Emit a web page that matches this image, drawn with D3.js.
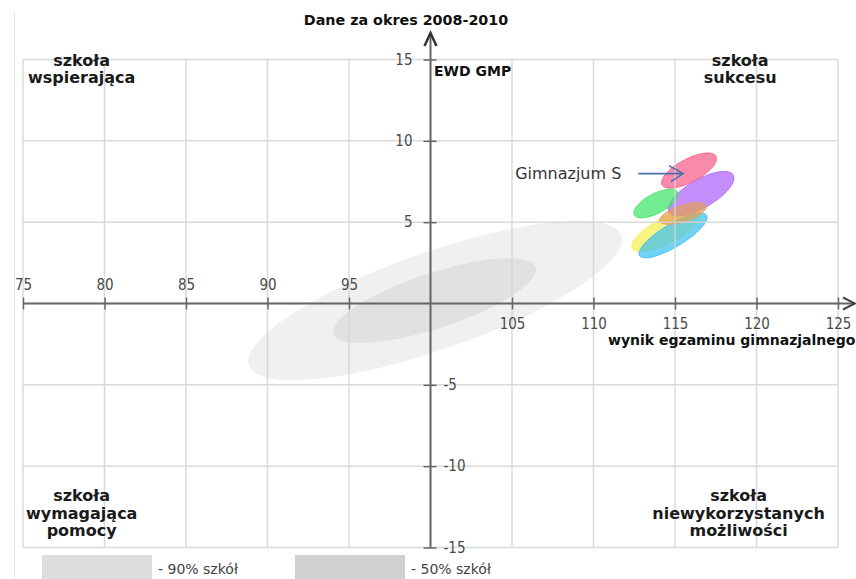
<!DOCTYPE html>
<html>
<head>
<meta charset="utf-8">
<script src="https://cdn.jsdelivr.net/npm/d3@7"></script>
<style>
  html, body { margin: 0; padding: 0; background: #fff; }
  svg { display: block; }
</style>
</head>
<body>
<svg id="chart" width="856" height="579"></svg>
<script>
// ---------- data ----------
const chartTitle = "Dane za okres 2008-2010";
const yAxisTitle = "EWD GMP";
const xAxisTitle = "wynik egzaminu gimnazjalnego";
const xDomain = [75, 125];
const yDomain = [-15, 15];
const xTickValues = [75, 80, 85, 90, 95, 100, 105, 110, 115, 120, 125];
const yTickValues = [-15, -10, -5, 0, 5, 10, 15];

// quadrant labels
const quadrantLines = [
  ["szkoła", "wspierająca"],
  ["szkoła", "sukcesu"],
  ["szkoła", "wymagająca", "pomocy"],
  ["szkoła", "niewykorzystanych", "możliwości"]
];
const quadrantX = [78.6, 119.0, 78.6, 118.9];
const quadrantY = [15, 15, -11.8, -11.8];

// reference clouds of all schools (ellipses in data units)
const cloudLabels = ["90% szkół", "50% szkół"];
const cloudCx = [100.28, 100.25];
const cloudCy = [0.18, 0.18];
const cloudA = [12.1, 6.53];
const cloudB = [3.0, 1.70];
const cloudAngle = [19.3, 18.3];

// school ellipses (yellow, cyan, purple, green, orange, pink)
const schoolCx = [114.45, 114.88, 116.6, 113.83, 115.49, 115.86];
const schoolCy = [4.49, 4.18, 6.76, 6.15, 5.53, 8.17];
const schoolA = [2.35, 2.4, 2.27, 1.5, 1.5, 1.87];
const schoolB = [0.78, 0.7, 0.86, 0.6, 0.5, 0.71];
const schoolAngle = [28, 31, 30, 28, 18, 28];
const schoolLabel = "Gimnazjum S";
const labelledSchool = 5;
const arrowStartX = 112.75;

// ---------- styles ----------
const schoolColors = ["#f7ef55", "#3cc0ee", "#ad62fb", "#3fe466", "#e2a05a", "#f65d88"];
const cloudColors = ["#f0f0f0", "#e1e1e1"];
const legendColors = ["#dddddd", "#d0d0d0"];

const svg = d3.select("#chart");
const x = d3.scaleLinear().domain(xDomain).range([23, 838]);
const y = d3.scaleLinear().domain(yDomain).range([547.5, 59.5]);

// faint frame line at left
svg.append("line").attr("x1", 14.5).attr("x2", 14.5).attr("y1", 12).attr("y2", 579)
  .attr("stroke", "#e4e4e4").attr("stroke-width", 1);

function ellipsePath(cx, cy, a, b, angDeg) {
  const th = angDeg * Math.PI / 180;
  const pts = d3.range(0, 360, 4).map(d => {
    const t = d * Math.PI / 180;
    const dx = a * Math.cos(t) * Math.cos(th) - b * Math.sin(t) * Math.sin(th);
    const dy = a * Math.cos(t) * Math.sin(th) + b * Math.sin(t) * Math.cos(th);
    return [x(cx + dx), y(cy + dy)];
  });
  return d3.line().curve(d3.curveCardinalClosed)(pts);
}

// clouds
svg.append("g").selectAll("path").data(cloudLabels).join("path")
  .attr("d", (d, i) => ellipsePath(cloudCx[i], cloudCy[i], cloudA[i], cloudB[i], cloudAngle[i]))
  .attr("fill", (d, i) => cloudColors[i]);

// school ellipses
svg.append("g").selectAll("path").data(schoolCx).join("path")
  .attr("d", (d, i) => ellipsePath(schoolCx[i], schoolCy[i], schoolA[i], schoolB[i], schoolAngle[i]))
  .attr("fill", (d, i) => schoolColors[i])
  .attr("fill-opacity", 0.72)
  .attr("stroke", (d, i) => schoolColors[i])
  .attr("stroke-opacity", 0.9)
  .attr("stroke-width", 1);

// grid
const grid = svg.append("g").attr("stroke", "#d4d4d4").attr("stroke-width", 1.5).attr("opacity", 0.85);
grid.selectAll("line.v").data(xTickValues).join("line").attr("class", "v")
  .attr("x1", d => x(d)).attr("x2", d => x(d)).attr("y1", y(15)).attr("y2", y(-15));
grid.selectAll("line.h").data(yTickValues).join("line").attr("class", "h")
  .attr("x1", x(75)).attr("x2", x(125)).attr("y1", d => y(d)).attr("y2", d => y(d));

const tickFont = "'DejaVu Sans Condensed', 'DejaVu Sans', sans-serif";
const axisColor = "#666";
const tickFmt = d => String(d);

// x axis
const xAxis = svg.append("g").attr("transform", `translate(0,${y(0)})`)
  .call(d3.axisBottom(x).tickValues(xTickValues).tickSize(0).tickFormat(tickFmt));
xAxis.select(".domain").remove();
xAxis.selectAll(".tick line").attr("y1", -6).attr("y2", 6).attr("stroke", axisColor).attr("stroke-width", 1.5);
xAxis.selectAll(".tick text")
  .attr("font-family", tickFont).attr("font-stretch", "condensed").attr("font-size", 15).attr("fill", "#4a4a4a")
  .attr("dy", null)
  .attr("y", d => d < 100 ? -14 : 25)
  .style("display", d => d === 100 ? "none" : null);
xAxis.selectAll(".tick").filter(d => d === 100).select("line").remove();

svg.append("line").attr("x1", x(75)).attr("x2", 855).attr("y1", y(0)).attr("y2", y(0))
  .attr("stroke", axisColor).attr("stroke-width", 2);
svg.append("path").attr("d", `M${843},${y(0) - 6}L${855},${y(0)}L${843},${y(0) + 6}`)
  .attr("fill", "none").attr("stroke", "#444").attr("stroke-width", 2);

// y axis
const yAxis = svg.append("g").attr("transform", `translate(${x(100)},0)`)
  .call(d3.axisLeft(y).tickValues(yTickValues.filter(d => d !== 0)).tickSize(0).tickFormat(tickFmt));
yAxis.select(".domain").remove();
yAxis.selectAll(".tick line").attr("x1", -7).attr("x2", 6).attr("stroke", axisColor).attr("stroke-width", 1.5);
yAxis.selectAll(".tick text")
  .attr("font-family", tickFont).attr("font-stretch", "condensed").attr("font-size", 15).attr("fill", "#4a4a4a")
  .attr("x", d => d > 0 ? -18 : 13)
  .attr("text-anchor", d => d > 0 ? "end" : "start");

svg.append("line").attr("x1", x(100)).attr("x2", x(100)).attr("y1", y(-15)).attr("y2", 35)
  .attr("stroke", axisColor).attr("stroke-width", 2);
svg.append("path").attr("d", `M${x(100) - 6},${46}L${x(100)},${33}L${x(100) + 6},${46}`)
  .attr("fill", "none").attr("stroke", "#333").attr("stroke-width", 2.5);

// titles
const boldFont = "'DejaVu Sans', sans-serif";
svg.append("text").attr("x", 406).attr("y", 25).attr("text-anchor", "middle")
  .attr("font-family", boldFont).attr("font-weight", "bold").attr("font-size", 14.3).attr("fill", "#111")
  .text(chartTitle);
svg.append("text").attr("x", 434).attr("y", 76)
  .attr("font-family", boldFont).attr("font-weight", "bold").attr("font-size", 14).attr("fill", "#111")
  .text(yAxisTitle);
svg.append("text").attr("x", 608).attr("y", 345)
  .attr("font-family", boldFont).attr("font-weight", "bold").attr("font-size", 14).attr("fill", "#111")
  .text(xAxisTitle);

// quadrant labels
quadrantLines.forEach((lines, qi) => {
  const t = svg.append("text").attr("text-anchor", "middle")
    .attr("font-family", boldFont).attr("font-weight", "bold").attr("font-size", 16).attr("fill", "#1a1a1a");
  lines.forEach((ln, li) => {
    t.append("tspan").attr("x", x(quadrantX[qi])).attr("y", y(quadrantY[qi]) + 6 + li * 17.5).text(ln);
  });
});

// school label with arrow
const arrowY = y(schoolCy[labelledSchool]) + 3;
const arrowX1 = x(arrowStartX), arrowX2 = x(schoolCx[labelledSchool]) - 6;
svg.append("line").attr("x1", arrowX1).attr("x2", arrowX2).attr("y1", arrowY).attr("y2", arrowY)
  .attr("stroke", "#4b6fae").attr("stroke-width", 1.6);
svg.append("path").attr("d", `M${arrowX2 - 14},${arrowY - 8}L${arrowX2},${arrowY}L${arrowX2 - 12},${arrowY + 8}`)
  .attr("fill", "none").attr("stroke", "#4b6fae").attr("stroke-width", 1.6);
svg.append("text").attr("x", arrowX1 - 17).attr("y", arrowY + 5).attr("text-anchor", "end")
  .attr("font-family", boldFont).attr("font-size", 16).attr("fill", "#333")
  .text(schoolLabel);

// legend
const legendX = [42, 295];
const lg = svg.append("g").selectAll("g").data(cloudLabels).join("g")
  .attr("transform", (d, i) => `translate(${legendX[i]},555)`);
lg.append("rect").attr("width", 110).attr("height", 30).attr("fill", (d, i) => legendColors[i]);
lg.append("text").attr("x", 116).attr("y", 19)
  .attr("font-family", boldFont).attr("font-size", 14).attr("fill", "#444")
  .text(d => "- " + d);
</script>
</body>
</html>
